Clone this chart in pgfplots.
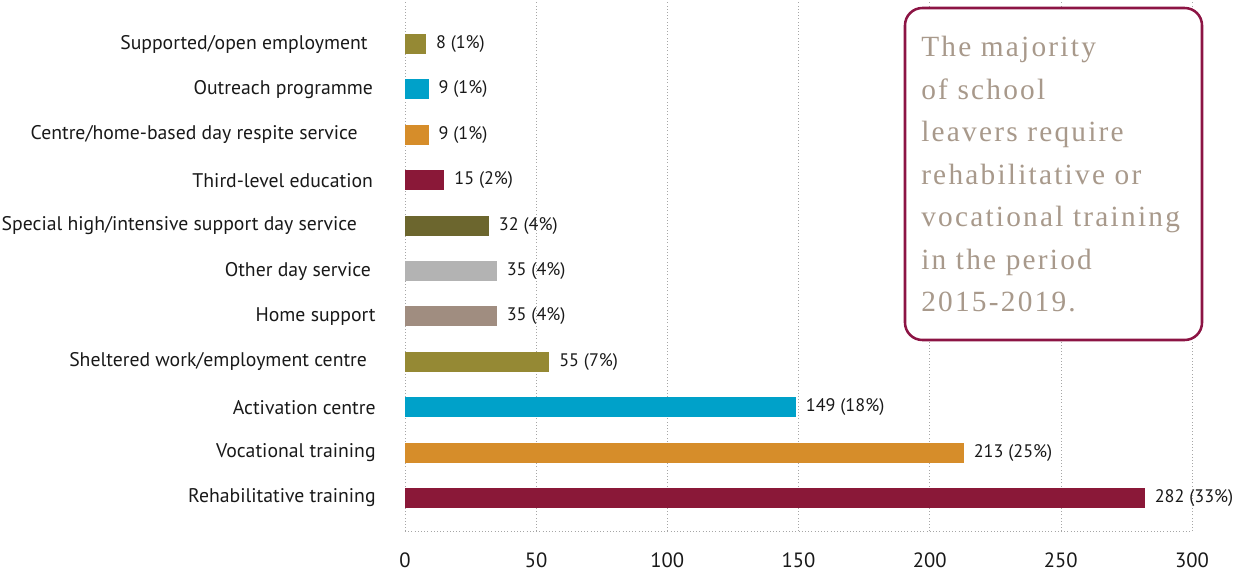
\documentclass[border=0pt]{standalone}
\usepackage{pgfplots}
\pgfplotsset{compat=1.18}
\usepackage{fontspec}
\setmainfont{PT Sans}
\newfontfamily\boxfont[LetterSpace=7.6]{Liberation Serif}
\definecolor{cmaroon}{HTML}{8A1838}
\definecolor{corange}{HTML}{D68D2A}
\definecolor{ccyan}{HTML}{00A1C9}
\definecolor{colive}{HTML}{958934}
\definecolor{cdarkolive}{HTML}{6C662E}
\definecolor{cgray}{HTML}{B3B3B3}
\definecolor{ctaupe}{HTML}{A08D80}
\definecolor{boxtext}{HTML}{A8998B}
\definecolor{boxborder}{HTML}{8C1444}
\begin{document}
\begin{tikzpicture}
\begin{axis}[
  at={(303.75pt,-398.25pt)}, anchor=south west,
  scale only axis, width=590.25pt, height=398.25pt,
  xmin=0, xmax=300, ymin=-0.727, ymax=10.97,
  xbar, bar width=15pt, bar shift=0pt,
  axis lines=left, axis line style={-, dotted, gray!70},
  xmajorgrids, grid style={dotted, gray!70},
  xtick={0,50,...,300}, ytick={0,...,10},
  yticklabels={Rehabilitative training, Vocational training, Activation centre,
    Sheltered work/employment centre\rule{6.5pt}{0pt}, Home support, Other day service\rule{3.5pt}{0pt},
    Special high/intensive support day service\rule{14pt}{0pt}, Third-level education\rule{2pt}{0pt},
    Centre/home-based day respite service\rule{13.5pt}{0pt}, Outreach programme\rule{2pt}{0pt}, Supported/open employment\rule{6pt}{0pt}},
  major tick length=0pt,
  /pgf/number format/assume math mode=true,
  xticklabel style={font=\fontsize{15.5}{17}\selectfont, text=black!90, yshift=-13pt},
  yticklabel style={font=\fontsize{14.8}{17}\selectfont, text=black!90, xshift=-18.5pt},
  nodes near coords, point meta=explicit symbolic,
  every node near coord/.append style={font=\fontsize{13.6}{15}\selectfont, text=black!90, anchor=west, xshift=4pt},
  clip=false,
]
\addplot[fill=cmaroon, draw=none] coordinates {(282,0) [282 (33\%)]};
\addplot[fill=corange, draw=none] coordinates {(213,1) [213 (25\%)]};
\addplot[fill=ccyan, draw=none] coordinates {(149,2) [149 (18\%)]};
\addplot[fill=colive, draw=none] coordinates {(55,3) [55 (7\%)]};
\addplot[fill=ctaupe, draw=none] coordinates {(35,4) [35 (4\%)]};
\addplot[fill=cgray, draw=none] coordinates {(35,5) [35 (4\%)]};
\addplot[fill=cdarkolive, draw=none] coordinates {(32,6) [32 (4\%)]};
\addplot[fill=cmaroon, draw=none] coordinates {(15,7) [15 (2\%)]};
\addplot[fill=corange, draw=none] coordinates {(9,8) [9 (1\%)]};
\addplot[fill=ccyan, draw=none] coordinates {(9,9) [9 (1\%)]};
\addplot[fill=colive, draw=none] coordinates {(8,10) [8 (1\%)]};
\end{axis}
\draw[fill=white, draw=boxborder, line width=1.9pt, rounded corners=13pt] (678.75pt,-6pt) rectangle (901.5pt,-255pt);
\node[anchor=north west, align=left, inner sep=0pt, text=boxtext, font=\boxfont\fontsize{22}{31.9}\selectfont] at (690.75pt,-27pt)
  {The majority\\ of school\\ leavers require\\ rehabilitative or\\ vocational training\\ in the period\\ 2015-2019.};
\pgfresetboundingbox
\path[use as bounding box] (0pt,0pt) rectangle (926.25pt,-432.75pt);
\end{tikzpicture}
\end{document}
